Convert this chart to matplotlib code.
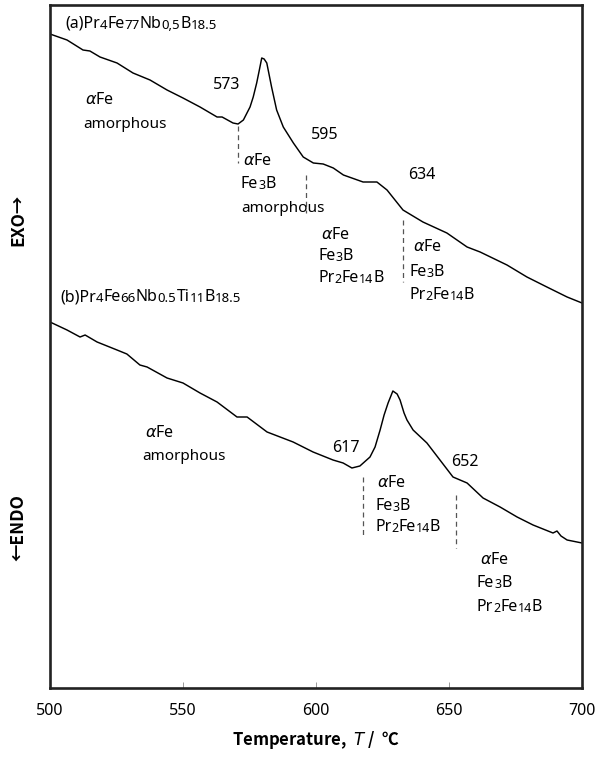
import matplotlib
matplotlib.use("Agg")
import matplotlib.pyplot as plt
import numpy as np

plt.rcParams['font.family'] = ['Noto Sans', 'Noto Sans CJK JP', 'DejaVu Sans']
plt.rcParams['mathtext.fontset'] = 'custom'
plt.rcParams['mathtext.rm'] = 'Noto Sans'
plt.rcParams['mathtext.it'] = 'DejaVu Sans:italic'
plt.rcParams['mathtext.bf'] = 'Noto Sans CJK JP:bold'

### data (DTA signal, arbitrary units)

# (a) Pr4Fe77Nb0.5B18.5
temp_a = [500.0, 506.4, 512.4, 515.0, 518.8, 525.2, 531.2, 537.6, 544.0, 550.0,
          556.4, 562.8, 564.7, 568.8, 570.7, 572.7, 575.2, 576.4, 577.7, 578.7,
          579.6, 580.5, 581.5, 583.3, 585.2, 587.7, 591.5, 595.2, 599.0, 602.7,
          606.5, 610.3, 617.7, 622.9, 626.7, 632.7, 640.2, 649.2, 656.8, 661.7,
          671.8, 679.3, 686.8, 694.4, 700.0]
sig_a = [65.4, 64.8, 63.8, 63.7, 63.1, 62.5, 61.5, 60.8, 59.8, 59.0,
         58.1, 57.1, 57.1, 56.5, 56.4, 56.8, 58.1, 59.1, 60.5, 61.8,
         63.0, 62.9, 62.5, 60.1, 57.8, 56.1, 54.5, 53.1, 52.5, 52.4,
         52.0, 51.3, 50.6, 50.6, 49.8, 47.8, 46.6, 45.5, 44.1, 43.6,
         42.3, 41.1, 40.1, 39.1, 38.5]

# (b) Pr4Fe66Nb0.5Ti11B18.5
temp_b = [500.0, 506.4, 511.3, 513.2, 517.7, 525.2, 528.9, 533.8, 536.5, 544.0,
          550.0, 556.4, 562.8, 570.3, 574.1, 581.6, 591.4, 598.9, 606.4, 610.2,
          613.5, 616.5, 620.3, 622.2, 624.1, 625.6, 627.1, 628.9, 630.5, 631.6,
          633.1, 634.2, 636.5, 641.7, 646.6, 651.5, 656.8, 662.8, 669.2, 675.6,
          681.6, 689.1, 690.6, 692.1, 694.4, 700.0]
sig_b = [36.6, 35.8, 35.1, 35.3, 34.6, 33.8, 33.4, 32.3, 32.1, 31.0,
         30.5, 29.5, 28.6, 27.1, 27.1, 25.6, 24.6, 23.6, 22.8, 22.5,
         22.0, 22.2, 23.1, 24.1, 25.8, 27.3, 28.5, 29.7, 29.4, 28.8,
         27.5, 26.8, 25.8, 24.5, 22.8, 21.1, 20.5, 19.0, 18.1, 17.1,
         16.3, 15.5, 15.7, 15.2, 14.8, 14.5]

# transition markers: temperature, signal from, signal to
mark_t = [570.7, 596.2, 632.7, 617.7, 652.6]
mark_y0 = [56.2, 51.3, 46.8, 21.1, 19.3]
mark_y1 = [52.5, 47.5, 40.6, 15.1, 14.0]

x_ticks = [500, 550, 600, 650, 700]

### plot

fig = plt.figure(figsize=(6.05, 7.57), dpi=100)
ax = fig.add_axes([50/605, 1-688/757, 532/605, 683/757])

ax.plot(temp_a, sig_a, color='black', lw=1.05)
ax.plot(temp_b, sig_b, color='black', lw=1.05)
ax.vlines(mark_t, mark_y0, mark_y1, colors='#555555', lw=0.9, linestyles=(0, (4, 3)))

ax.set_xlim(500, 700)
ax.set_ylim(0, 68.3)
ax.set_xticks(x_ticks)
ax.set_yticks([])
ax.tick_params(axis='x', direction='in', length=4, width=0.7, color='#999999',
               labelsize=11.5, pad=11)
for s in ax.spines.values():
    s.set_linewidth(1.9)
    s.set_color('#222222')

BOLD_FAM = ['Noto Sans CJK JP', 'DejaVu Sans']
ax.set_xlabel('Temperature,  $T$ /  \u2103', fontsize=12, fontweight='bold',
              family=BOLD_FAM, labelpad=7)

FS = 11.5   # label text
FS_SUB = 9  # small (subscript) digits


# type: (float, float, list[str], float, float) -> None
def formula(x, y, parts, size=FS, subsize=FS_SUB):
    # parts alternate: normal, small, normal, small, ...
    prev = ax.text(x, y, parts[0], fontsize=size, ha='left', va='center')
    for i, p in enumerate(parts[1:], start=1):
        fs = subsize if i % 2 else size
        prev = ax.annotate(p, xy=(1, 0), xycoords=prev, ha='left', va='bottom', fontsize=fs)


def put(x, y, s, size=FS):
    ax.text(x, y, s, fontsize=size, ha='left', va='center')


# (a)
formula(505.6, 66.4, ['(a)Pr', '4', 'Fe', '77', 'Nb', '0,5', 'B', '18.5'], 11.5, 9.5)
put(561.3, 60.3, '573')
put(513.2, 58.8, r'$\alpha$Fe')
put(512.4, 56.4, 'amorphous', 11)
put(572.6, 52.7, r'$\alpha$Fe')
formula(571.8, 50.4, ['Fe', '3', 'B'])
put(571.8, 48.0, 'amorphous', 11)
put(598.1, 55.3, '595')
put(634.6, 51.3, '634')
put(602.0, 45.3, r'$\alpha$Fe')
formula(600.8, 43.2, ['Fe', '3', 'B'])
formula(600.8, 41.0, ['Pr', '2', 'Fe', '14', 'B'])
put(636.5, 44.1, r'$\alpha$Fe')
formula(635.0, 41.6, ['Fe', '3', 'B'])
formula(635.0, 39.3, ['Pr', '2', 'Fe', '14', 'B'])

# (b)
formula(503.8, 39.1, ['(b)Pr', '4', 'Fe', '66', 'Nb', '0.5', 'Ti', '11', 'B', '18.5'], 11.5, 9.5)
put(535.7, 25.5, r'$\alpha$Fe')
put(534.6, 23.2, 'amorphous', 11)
put(606.0, 24.0, '617')
put(650.8, 22.6, '652')
put(622.9, 20.5, r'$\alpha$Fe')
formula(622.2, 18.2, ['Fe', '3', 'B'])
formula(622.2, 16.1, ['Pr', '2', 'Fe', '14', 'B'])
put(661.7, 12.8, r'$\alpha$Fe')
formula(660.5, 10.5, ['Fe', '3', 'B'])
formula(660.5, 8.1, ['Pr', '2', 'Fe', '14', 'B'])

fig.text(18/605, 1-220/757, 'EXO\u2192', rotation=90, ha='center', va='center',
         fontsize=12.5, fontweight='bold', family=BOLD_FAM)
fig.text(18/605, 1-528/757, '\u2190ENDO', rotation=90, ha='center', va='center',
         fontsize=12.5, fontweight='bold', family=BOLD_FAM)

fig.savefig('out.png', dpi=100)
